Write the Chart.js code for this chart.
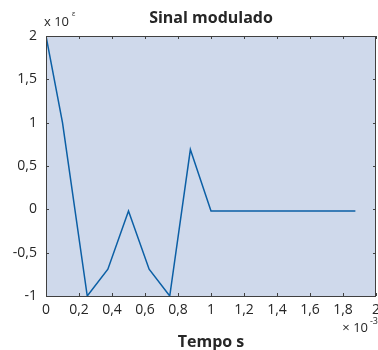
<!DOCTYPE html>
<html>
<head>
<meta charset="utf-8">
<script src="https://cdn.jsdelivr.net/npm/chart.js@4/dist/chart.umd.min.js"></script>
<style>
  html, body { margin: 0; padding: 0; background: #fff; }
  #wrap { width: 378px; height: 350px; }
</style>
</head>
<body>
<div id="wrap"><canvas id="grafico" width="378" height="350"></canvas></div>
<script>
// tempo (x 10^-3 s) e sinal (x 10^e)
var tempo = [0, 0.1, 0.25, 0.375, 0.5, 0.625, 0.75, 0.875, 1.0, 1.125, 1.25, 1.375, 1.5, 1.625, 1.75, 1.875];
var sinal = [2, 1, -1, -0.69, -0.02, -0.69, -1, 0.69, -0.02, -0.02, -0.02, -0.02, -0.02, -0.02, -0.02, -0.02];
var ticksX = [0, 0.2, 0.4, 0.6, 0.8, 1, 1.2, 1.4, 1.6, 1.8, 2];
var ticksY = [-1, -0.5, 0, 0.5, 1, 1.5, 2];

var fonte = '"Open Sans", "Liberation Sans", Arial, sans-serif';
var corTexto = '#262626';

function rotulo(v){
    return String(Number(v.toFixed(2))).replace('.', ',');
}

var pontos = tempo.map(function(t, i){ return {x: t, y: sinal[i]}; });

// fundo, caixa, ticks para dentro e textos no estilo MATLAB
var estilo = {
    id: 'estilo',
    beforeDatasetsDraw: function(chart){
        var ctx = chart.ctx, a = chart.chartArea;
        ctx.save();
        ctx.fillStyle = '#cfd9eb';
        ctx.fillRect(a.left, a.top, a.right - a.left, a.bottom - a.top);
        ctx.restore();
    },
    afterDraw: function(chart){
        var ctx = chart.ctx, a = chart.chartArea;
        var sx = chart.scales.x, sy = chart.scales.y;
        ctx.save();
        ctx.strokeStyle = '#404040';
        ctx.lineWidth = 1;
        ctx.beginPath();
        ticksX.forEach(function(v){
            var px = Math.round(sx.getPixelForValue(v)) + 0.5;
            ctx.moveTo(px, a.top); ctx.lineTo(px, a.top + 3);
            ctx.moveTo(px, a.bottom); ctx.lineTo(px, a.bottom - 3);
        });
        ticksY.forEach(function(v){
            var py = Math.round(sy.getPixelForValue(v)) + 0.5;
            ctx.moveTo(a.left, py); ctx.lineTo(a.left + 3, py);
            ctx.moveTo(a.right, py); ctx.lineTo(a.right - 3, py);
        });
        ctx.stroke();
        ctx.strokeRect(Math.round(a.left) + 0.5, Math.round(a.top) + 0.5,
                       Math.round(a.right - a.left) - 1, Math.round(a.bottom - a.top));

        ctx.fillStyle = corTexto;
        ctx.textBaseline = 'middle';
        // titulo
        ctx.font = 'bold 16px ' + fonte;
        ctx.textAlign = 'center';
        ctx.fillText('Sinal modulado', (a.left + a.right) / 2, 18);
        // rotulo x
        ctx.font = 'bold 16px ' + fonte;
        ctx.fillText('Tempo s', (a.left + a.right) / 2, 342);
        // expoente y
        ctx.font = '13px ' + fonte;
        ctx.textAlign = 'left';
        ctx.fillText('x 10', 44, 22);
        ctx.font = '7px ' + fonte;
        ctx.fillText('\u03b5', 72, 14);
        // expoente x
        ctx.textAlign = 'right';
        ctx.font = '9px ' + fonte;
        ctx.fillText('-3', 378, 321);
        ctx.font = '13px ' + fonte;
        ctx.fillText('\u00d7 10', 368, 328);
        ctx.restore();
    }
};

var ctx = document.getElementById('grafico').getContext('2d');
var grafico = new Chart(ctx, {
    type: 'scatter',
    data: {
        datasets: [{
            data: pontos,
            showLine: true,
            borderColor: '#0b5fa5',
            borderWidth: 1.5,
            pointRadius: 0,
            tension: 0,
            fill: false
        }]
    },
    options: {
        responsive: false,
        animation: false,
        events: [],
        layout: { padding: { top: 36, right: 2, left: 0, bottom: 0 } },
        plugins: { legend: { display: false }, title: { display: false }, tooltip: { enabled: false } },
        scales: {
            x: {
                type: 'linear', min: 0, max: 2,
                afterBuildTicks: function(s){ s.ticks = ticksX.map(function(v){ return {value: v}; }); },
                afterFit: function(s){ s.height = 54; s.paddingLeft = 0; s.paddingRight = 0; },
                border: { display: false },
                grid: { display: false, drawTicks: false },
                ticks: {
                    padding: 6, color: corTexto, maxRotation: 0, autoSkip: false,
                    font: { family: fonte, size: 14 },
                    callback: function(v){ return rotulo(v); }
                }
            },
            y: {
                type: 'linear', min: -1, max: 2,
                afterBuildTicks: function(s){ s.ticks = ticksY.map(function(v){ return {value: v}; }); },
                afterFit: function(s){ s.width = 46; s.paddingTop = 0; s.paddingBottom = 0; },
                border: { display: false },
                grid: { display: false, drawTicks: false },
                ticks: {
                    padding: 9, color: corTexto, autoSkip: false,
                    font: { family: fonte, size: 14 },
                    callback: function(v){ return rotulo(v); }
                }
            }
        }
    },
    plugins: [estilo]
});
</script>
</body>
</html>
